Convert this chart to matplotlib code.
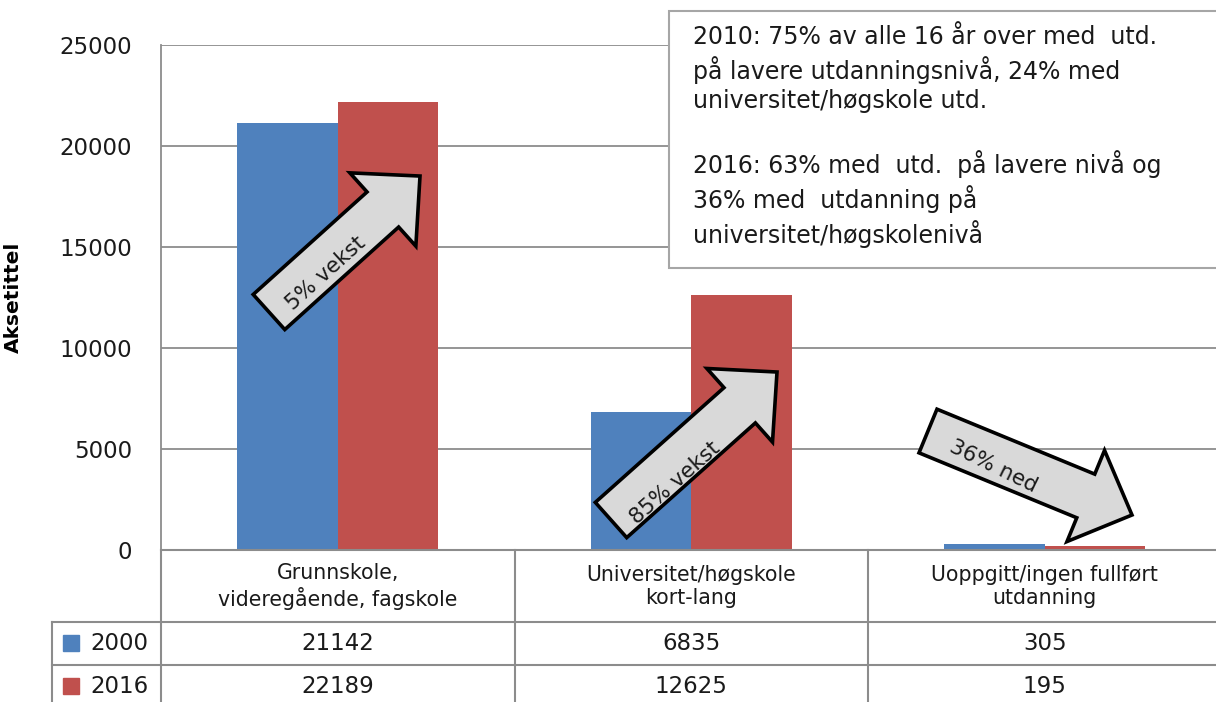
import matplotlib
matplotlib.use("Agg")
import matplotlib.pyplot as plt
import matplotlib.transforms as mtransforms
from matplotlib.patches import FancyArrowPatch, Rectangle
import numpy as np

# data
categories = ["Grunnskole,\nvideregående, fagskole",
              "Universitet/høgskole\nkort-lang",
              "Uoppgitt/ingen fullført\nutdanning"]
series_names = ["2000", "2016"]
values_2000 = [21142, 6835, 305]
values_2016 = [22189, 12625, 195]
colors = ["#4f81bd", "#c0504d"]
note = ("2010: 75% av alle 16 år over med  utd.\n"
        "på lavere utdanningsnivå, 24% med\n"
        "universitet/høgskole utd.\n"
        "\n"
        "2016: 63% med  utd.  på lavere nivå og\n"
        "36% med  utdanning på\n"
        "universitet/høgskolenivå")

plt.rcParams['font.family'] = ['DejaVu Sans']
grid_col = "#8c8c8c"
txt_col = "#1a1a1a"

fig = plt.figure(figsize=(12.16, 7.02), dpi=100)
ax = fig.add_axes([161 / 1216, 1 - 550 / 702, 1060.5 / 1216, 505 / 702])

x = np.arange(len(categories))
w = 0.285
ax.bar(x - w / 2, values_2000, w, color=colors[0], zorder=2)
ax.bar(x + w / 2, values_2016, w, color=colors[1], zorder=2)

ax.set_xlim(-0.5, 2.5)
ax.set_ylim(0, 25000)
ax.set_yticks(np.arange(0, 25001, 5000))
ax.tick_params(axis='y', length=0, pad=21, labelsize=16.5, labelcolor=txt_col)
ax.set_xticks([])
ax.yaxis.grid(True, color=grid_col, lw=1.3, zorder=0)
ax.set_axisbelow(True)
for s in ["top", "right", "bottom"]:
    ax.spines[s].set_visible(False)
ax.spines["left"].set_color(grid_col)
ax.spines["left"].set_linewidth(1.3)
ax.set_ylabel("Aksetittel", fontsize=14.5, fontweight="bold")
ax.yaxis.set_label_coords(-0.130, 0.5)

# data table under the chart
tr = mtransforms.blended_transform_factory(ax.transData, ax.transAxes)
left_col = -0.809
row_lines = [0, -0.1426, -0.2277]
row_mid = [-0.185, -0.270]
lkw = dict(color=grid_col, lw=1.5, transform=tr, clip_on=False)
ax.plot([-0.5, 2.5], [0, 0], **lkw)
ax.plot([left_col, 2.5], [row_lines[1]] * 2, **lkw)
ax.plot([left_col, 2.5], [row_lines[2]] * 2, **lkw)
for b in [-0.5, 0.5, 1.5, 2.5]:
    ax.plot([b, b], [0, -0.4], **lkw)
ax.plot([left_col, left_col], [row_lines[1], -0.4], **lkw)

for i, cat in enumerate(categories):
    ax.text(i, -0.073, cat, transform=tr, ha="center", va="center",
            fontsize=14.8, linespacing=1.2, color=txt_col)
for r, (name, vals) in enumerate(zip(series_names, [values_2000, values_2016])):
    ax.plot([-0.756], [row_mid[r]], marker="s", ms=12, color=colors[r],
            transform=tr, clip_on=False)
    ax.text(-0.701, row_mid[r], name, transform=tr, ha="left", va="center",
            fontsize=16.5, color=txt_col)
    for i, v in enumerate(vals):
        ax.text(i, row_mid[r], str(v), transform=tr, ha="center", va="center",
                fontsize=16.5, color=txt_col)

# block arrows
arrows = [((-0.1945, 11781), (0.2327, 18513), "5% vekst", (-0.035, 13700), 42),
          ((0.773, 1485), (1.2426, 8811), "85% vekst", (0.955, 3300), 41.7),
          ((1.6697, 5891), (2.2468, 1733), "36% ned", (1.855, 4150), -26)]
for a, b, label, tp, rot in arrows:
    p = FancyArrowPatch(a, b, arrowstyle="simple,head_length=3.6,head_width=7.1,tail_width=3.4",
                        mutation_scale=10, shrinkA=0, shrinkB=0, fc="#d9d9d9",
                        ec="black", lw=2.6, joinstyle="miter", zorder=5)
    ax.add_patch(p)
    ax.text(tp[0], tp[1], label, rotation=rot, rotation_mode="anchor",
            ha="center", va="center", fontsize=15.5, color=txt_col, zorder=6)

# note box
fig.patches.append(Rectangle((669 / 1216, 1 - 268 / 702), 0.5, 257 / 702,
                             transform=fig.transFigure, fc="white", ec="#a6a6a6",
                             lw=1.5, zorder=10))
fig.text(693 / 1216, 1 - 25 / 702, note, ha="left", va="top", fontsize=17,
         linespacing=1.3, color=txt_col, zorder=11)

fig.savefig("out.png", dpi=100)
